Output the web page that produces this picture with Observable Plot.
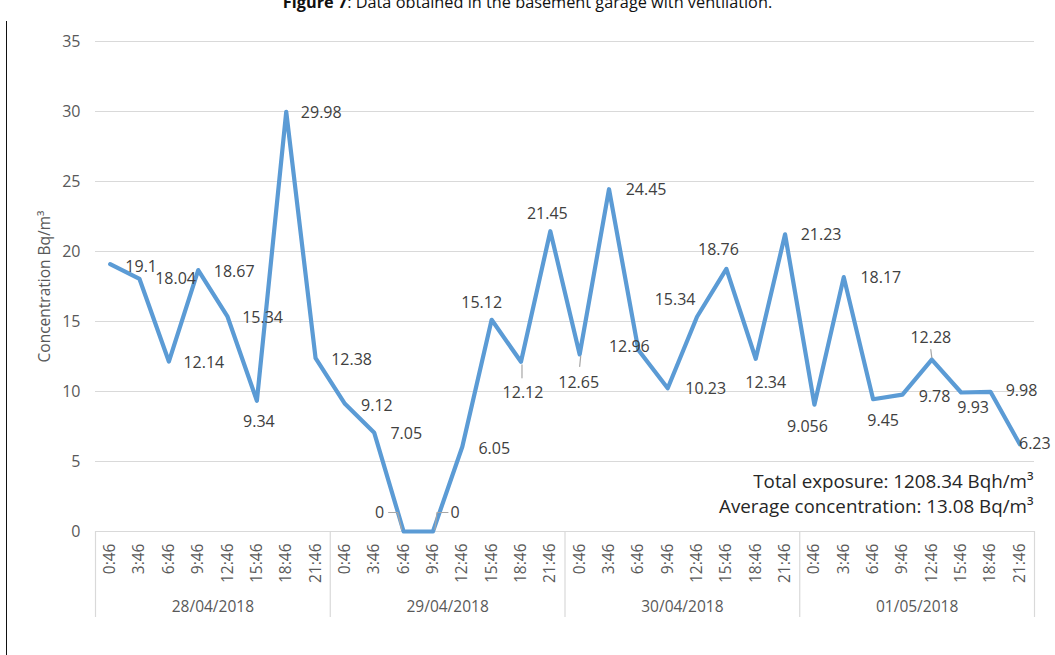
<!DOCTYPE html>
<html>
<head>
<meta charset="utf-8">
<script src="https://cdn.jsdelivr.net/npm/d3@7"></script>
<script src="https://cdn.jsdelivr.net/npm/@observablehq/plot@0.6"></script>
<style>
  html, body { margin: 0; padding: 0; background: #fff; }
  #wrap { position: relative; width: 1055px; height: 655px; overflow: hidden; font-family: "Open Sans", sans-serif; }
  #title { position: absolute; left: 0; width: 1055px; top: -9px; text-align: center; font-size: 16.3px; color: #111; white-space: nowrap; }
  #edge { position: absolute; left: 6px; top: 21px; width: 0; height: 640px; border-left: 1.5px solid #111; }
  #chart { position: absolute; left: 0; top: 0; }
</style>
</head>
<body>
<div id="wrap">
  <div id="chart"></div>
  <div id="title"><b>Figure 7</b>: Data obtained in the basement garage with ventilation.</div>
  <div id="edge"></div>
</div>
<script>
// Readings every 3 h over four days, Bq/m³
const days = ["28/04/2018", "29/04/2018", "30/04/2018", "01/05/2018"];
const times = ["0:46", "3:46", "6:46", "9:46", "12:46", "15:46", "18:46", "21:46"];
const concentration = [
  19.1, 18.04, 12.14, 18.67, 15.34, 9.34, 29.98, 12.38,
  9.12, 7.05, 0, 0, 6.05, 15.12, 12.12, 21.45,
  12.65, 24.45, 12.96, 10.23, 15.34, 18.76, 12.34, 21.23,
  9.056, 18.17, 9.45, 9.78, 12.28, 9.93, 9.98, 6.23
];
const yTicks = [0, 5, 10, 15, 20, 25, 30, 35];
const yTitle = "Concentration Bq/m³";
const notes = ["Total exposure: 1208.34 Bqh/m³", "Average concentration: 13.08 Bq/m³"];

// Label placement: pixel offset of each value label from its point
const labelOffsets = [
  [31, 3], [36, 0], [35, 1], [36, 2], [35, 1], [2, 21], [35, 1], [36, 2],
  [32, 2], [32, 1], [-24, -19], [22, -19], [32, 2], [-10, -17], [2, 31], [-3, -17],
  [-1, 28], [37, 1], [-9, -3], [38, 1], [-22, -17], [-8, -19], [10, 24], [36, 1],
  [-7, 22], [37, 1], [10, 22], [32, 2], [-1, -22], [12, 15], [31, -1], [15, 0]
];
// Leader lines (pixel offsets from the point) for labels set away from their point
const leaderPaths = {
  10: [[-15, -19], [-6, -19], [-2, -2]],
  11: [[15, -19], [4, -19], [2, -2]],
  14: [[1, 3], [1, 16]],
  16: [[1, 2], [0, 12]],
  28: [[0, -2], [-1, -10]]
};

const W = 1055, H = 655;
const M = {top: 41, right: 21, bottom: 124, left: 95};
const n = concentration.length;
const ppu = (H - M.top - M.bottom) / 35;           // pixels per Bq/m³
const bw = (W - M.left - M.right) / n;             // pixels per category

const rows = concentration.map((v, i) => ({
  i, v,
  time: times[i % times.length],
  day: days[Math.floor(i / times.length)],
  label: String(v),
  lx: i + labelOffsets[i][0] / bw,
  ly: v - labelOffsets[i][1] / ppu
}));

const leaders = [];
for (const [k, path] of Object.entries(leaderPaths)) {
  const r = rows[+k];
  path.forEach(([dx, dy]) => leaders.push({id: +k, x: r.i + dx / bw, y: r.v - dy / ppu}));
}

const bounds = days.map((d, k) => k * times.length - 0.5).concat([n - 0.5]);
const dayRows = days.map((d, k) => ({day: d, x: k * times.length + (times.length - 1) / 2}));

const grey = "#595959";
const plot = Plot.plot({
  width: W,
  height: H,
  marginTop: M.top,
  marginRight: M.right,
  marginBottom: M.bottom,
  marginLeft: M.left,
  x: {domain: [-0.5, n - 0.5], axis: null},
  y: {domain: [0, 35], axis: null},
  style: {fontFamily: "Open Sans, sans-serif", fontSize: "16px", background: "transparent", overflow: "visible"},
  marks: [
    Plot.ruleY(yTicks, {stroke: "#d9d9d9", strokeWidth: 1.2}),
    Plot.ruleX(bounds, {y1: 0, y2: -86 / ppu, stroke: "#d9d9d9", strokeWidth: 1.2}),
    Plot.line(rows, {x: "i", y: "v", stroke: "#5b9bd5", strokeWidth: 4.2, strokeLinejoin: "round", strokeLinecap: "round"}),
    Plot.line(leaders, {x: "x", y: "y", z: "id", stroke: "#a6a6a6", strokeWidth: 1.2}),
    Plot.text(rows, {x: "lx", y: "ly", text: "label", fill: "#404040", fontSize: 16}),
    Plot.text(rows, {x: "i", y: 0, text: "time", rotate: -90, textAnchor: "end", dy: 12, fill: grey, fontSize: 15.5}),
    Plot.text(dayRows, {x: "x", y: 0, text: "day", dy: 76, fill: grey, fontSize: 15.5}),
    Plot.text(yTicks, {x: -0.5, y: d => d, text: d => String(d), dx: -15, textAnchor: "end", fill: grey, fontSize: 16}),
    Plot.text([yTitle], {x: -0.5, y: 17.5, text: d => d, dx: -50, rotate: -90, fill: grey, fontSize: 15.5}),
    ...notes.map((t, k) => Plot.text([t], {frameAnchor: "bottom-right", text: d => d, dx: -1, dy: -44 + 25 * k, fill: "#262626", fontSize: 18.8}))
  ]
});
document.getElementById("chart").appendChild(plot);
</script>
</body>
</html>
